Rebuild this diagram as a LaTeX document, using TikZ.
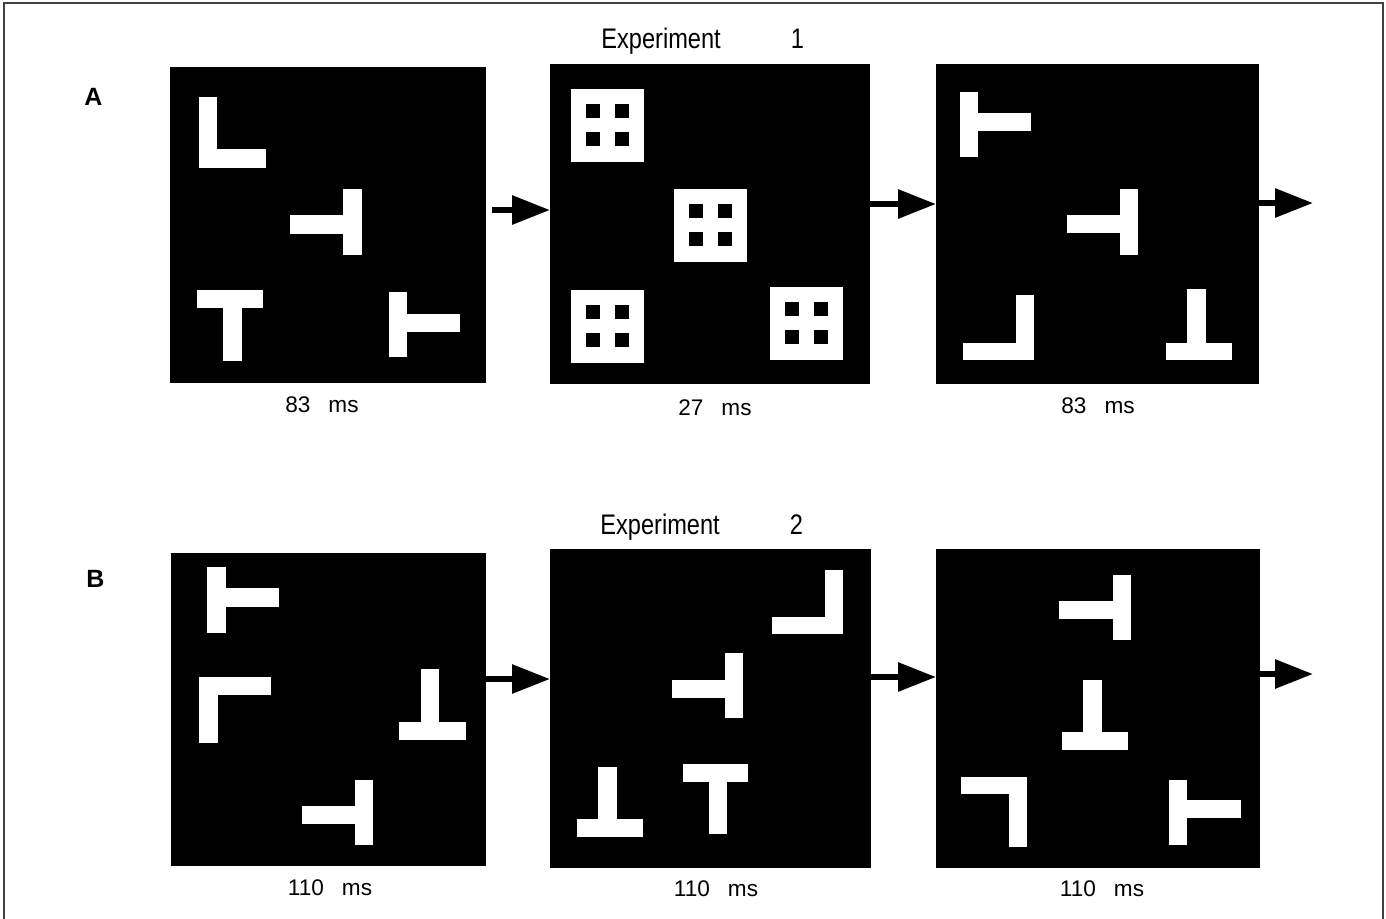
\documentclass[tikz,border=0pt]{standalone}
\usepackage{graphicx}
\usepackage{fontspec}
\setmainfont{Liberation Sans}
\usetikzlibrary{arrows.meta}
\tikzset{
  panel/.style={fill=black, draw=none, inner sep=0pt, outer sep=0pt},
  arr/.style={line width=3pt, -{Triangle[length=19pt,width=14pt]}},
  lbl/.style={anchor=base, font=\fontsize{11.3}{13}\selectfont, inner sep=0pt},
  title/.style={anchor=base west, font=\fontsize{11.8}{14}\selectfont, inner sep=0pt},
  letter/.style={anchor=base west, font=\fontsize{12.5}{14}\selectfont\bfseries, inner sep=0pt},
  sqpic/.pic={
    \fill[white] (0,0) rectangle (73,73);
    \fill[black] (15,15) rectangle (29,29);
    \fill[black] (44,15) rectangle (58,29);
    \fill[black] (15,43) rectangle (29,57);
    \fill[black] (44,43) rectangle (58,57);
  }
}
\begin{document}
\begin{tikzpicture}[x=0.5pt,y=-0.5pt]
\useasboundingbox (0,0) rectangle (1386,918);
% frame
\draw[line width=0.8pt, black!75] (4,930) -- (4,3) -- (1383,3) -- (1383,930);

% titles and letters
\node[title] (t1) at (601,48) {\scalebox{1}[1.2]{Experiment\hspace{35pt}1}};
\node[title] (t2) at (600,534) {\scalebox{1}[1.2]{Experiment\hspace{35pt}2}};
\node[letter] (la) at (84,105) {A};
\node[letter] (lb) at (86,587) {B};

% panels row A
\node[panel, minimum width=158pt, minimum height=158pt] (A1) at (328,225) {};
\node[panel, minimum width=160pt, minimum height=160pt] (A2) at (710,224) {};
\node[panel, minimum width=161.5pt, minimum height=160pt] (A3) at (1097.5,224) {};
% panels row B
\node[panel, minimum width=157.5pt, minimum height=156.5pt] (B1) at (328.5,709.5) {};
\node[panel, minimum width=160.5pt, minimum height=159.5pt] (B2) at (710.5,708.5) {};
\node[panel, minimum width=162pt, minimum height=159.5pt] (B3) at (1098,708.5) {};

% labels
\node[lbl] (l1) at (322,412) {83\hspace{9pt}ms};
\node[lbl] (l2) at (715,415) {27\hspace{9pt}ms};
\node[lbl] (l3) at (1098,413) {83\hspace{9pt}ms};
\node[lbl] (l4) at (330,895) {110\hspace{9pt}ms};
\node[lbl] (l5) at (716,896) {110\hspace{9pt}ms};
\node[lbl] (l6) at (1102,896) {110\hspace{9pt}ms};

% A1 shapes
\fill[white] (199,97) rectangle (217,168); \fill[white] (199,149) rectangle (266,168);
\fill[white] (343,189) rectangle (362,255); \fill[white] (290,215) rectangle (343,234);
\fill[white] (197,290) rectangle (263,308); \fill[white] (223,308) rectangle (242,361);
\fill[white] (389,292) rectangle (407,357); \fill[white] (407,314) rectangle (460,332);

% A2 masks
\pic at (571,89) {sqpic};
\pic at (674,189) {sqpic};
\pic at (571,290) {sqpic};
\pic at (770,287) {sqpic};

% A3 shapes
\fill[white] (960,92) rectangle (978,157); \fill[white] (978,113) rectangle (1031,131);
\fill[white] (1120,189) rectangle (1138,255); \fill[white] (1067,215) rectangle (1120,233);
\fill[white] (1016,295) rectangle (1034,360); \fill[white] (963,343) rectangle (1034,360);
\fill[white] (1187,289) rectangle (1206,343); \fill[white] (1166,343) rectangle (1232,360);

% B1 shapes
\fill[white] (207,567) rectangle (226,633); \fill[white] (226,588) rectangle (279,607);
\fill[white] (199,677) rectangle (218,743); \fill[white] (199,677) rectangle (271,695);
\fill[white] (421,669) rectangle (439,722); \fill[white] (399,722) rectangle (466,740);
\fill[white] (355,780) rectangle (373,845); \fill[white] (302,806) rectangle (355,824);

% B2 shapes
\fill[white] (825,570) rectangle (843,634); \fill[white] (772,617) rectangle (843,634);
\fill[white] (725,653) rectangle (743,718); \fill[white] (672,680) rectangle (725,698);
\fill[white] (598,767) rectangle (617,819); \fill[white] (577,819) rectangle (643,837);
\fill[white] (683,764) rectangle (748,782); \fill[white] (709,782) rectangle (727,834);

% B3 shapes
\fill[white] (1113,575) rectangle (1131,640); \fill[white] (1059,601) rectangle (1113,619);
\fill[white] (1083,680) rectangle (1102,732); \fill[white] (1062,732) rectangle (1128,750);
\fill[white] (961,777) rectangle (1027,794); \fill[white] (1009,794) rectangle (1027,847);
\fill[white] (1169,780) rectangle (1187,845); \fill[white] (1187,800) rectangle (1241,818);

% arrows
\coordinate (Aend) at (1313,203);
\coordinate (Bend) at (1313,674);
\draw[arr] (A1.east |- 0,210) ++(6,0) -- (A2.west |- 0,210);
\draw[arr] (A2.east |- 0,204) -- (A3.west |- 0,204);
\draw[arr] (A3.east |- Aend) -- (Aend);
\draw[arr] (B1.east |- 0,679) -- (B2.west |- 0,679);
\draw[arr] (B2.east |- 0,677) -- (B3.west |- 0,677);
\draw[arr] (B3.east |- Bend) -- (Bend);
\end{tikzpicture}
\end{document}
